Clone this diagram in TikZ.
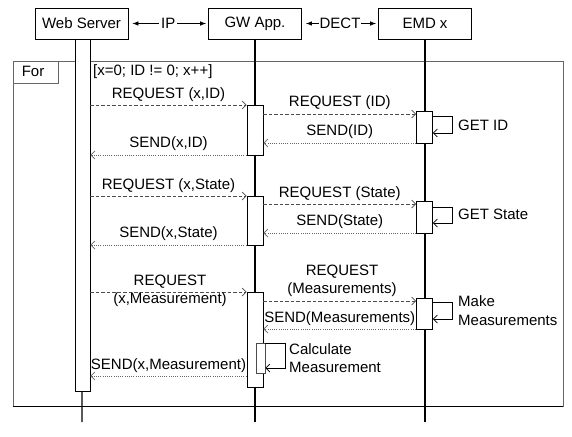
\documentclass[tikz,border=0pt]{standalone}
\usepackage{fontspec}
\setmainfont{Liberation Sans}
\usetikzlibrary{arrows.meta}
\begin{document}
\begin{tikzpicture}[x=1pt,y=-1pt,
  every node/.style={font=\fontsize{15}{16.5}\selectfont, inner sep=1pt},
  head/.style={draw=black, line width=0.8pt, minimum width=93pt, minimum height=31pt, inner sep=0pt},
  actbar/.style={draw=black, fill=white, line width=0.9pt, minimum width=16pt, inner sep=0pt, anchor=north},
  lifeline/.style={line width=1.2pt},
  req/.style={draw=black!70, line width=0.7pt, dash pattern=on 3.5pt off 2pt, -{Straight Barb[length=4pt,width=8pt]}},
  rep/.style={draw=black!60, line width=0.7pt, dash pattern=on 1pt off 1.2pt, -{Straight Barb[length=4pt,width=8pt]}},
  selfloop/.style={draw=black, line width=0.7pt, -{Straight Barb[length=4pt,width=8pt]}},
  frame/.style={draw=black!60, line width=0.8pt},
  lbl/.style={inner sep=0pt}
]
\useasboundingbox (0,0) rectangle (572,436);
\fill[white] (0,0) rectangle (572,436);

% frame
\draw[frame] (13,61) rectangle (563,406);
\draw[line width=0.9pt] (13,406) -- (563,406);
\node[frame, draw, minimum width=45pt, minimum height=22pt, anchor=north west, inner sep=0pt] (fortab) at (13,61) {};
\node[lbl] (fortxt) at (33,71.5) {For};
\node[lbl, anchor=west] (guard) at (93,72) {[x=0; ID != 0; x++]};

% heads
\node[head] (ws) at (81.5,23.5) {Web Server};
\node[head] (gw) at (255,23.5) {GW App.};
\node[head] (emd) at (425,23.5) {EMD x};

\draw[{Latex[length=6pt,width=4.5pt]}-{Latex[length=6pt,width=4.5pt]}, line width=0.7pt, shorten <=4pt, shorten >=2pt] (ws.east) -- node[fill=white, inner sep=2pt] (ip) {IP} (gw.west);
\draw[{Latex[length=6pt,width=4.5pt]}-{Latex[length=6pt,width=4.5pt]}, line width=0.7pt, shorten <=4pt, shorten >=2pt] (gw.east) -- node[fill=white, inner sep=1pt] (dect) {DECT} (emd.west);

% lifelines
\coordinate (wsend) at (82,422);
\coordinate (gwend) at (255,422);
\coordinate (emdend) at (425,422);
\draw[lifeline] (ws.south) -- (wsend);
\draw[lifeline] (gw.south) -- (gwend);
\draw[lifeline] (emd.south) -- (emdend);

% activation bars
\node[actbar, minimum width=15pt, minimum height=352pt] (wb) at (82.5,39) {};
\node[actbar, minimum height=50pt] (g1) at (255,105) {};
\node[actbar, minimum height=32pt] (e1) at (424.5,111) {};
\node[actbar, minimum height=49pt] (g2) at (255,196) {};
\node[actbar, minimum height=32pt] (e2) at (424.5,201) {};
\node[actbar, minimum height=95pt] (g3) at (255,292) {};
\node[actbar, minimum height=31pt] (e3) at (424.5,298) {};
\node[actbar, draw=black!70, line width=0.7pt, minimum width=9pt, minimum height=30pt] (c3) at (260.5,343) {};

% block 1
\draw[req] (wb.east |- 0,105) -- node[above=2pt] (l1) {REQUEST (x,ID)} (g1.west |- 0,105);
\draw[req] (g1.east |- 0,114) -- node[above=3pt] (l2) {REQUEST (ID)} (e1.west |- 0,114);
\draw[selfloop] (e1.east |- 0,116) -| (452,133) -- (e1.east |- 0,133);
\node[lbl, anchor=west] (l3) at (458,125) {GET ID};
\draw[rep] (e1.west |- 0,143) -- node[above=3pt] (l4) {SEND(ID)} (g1.east |- 0,143);
\draw[rep] (g1.west |- 0,155) -- node[above=3pt] (l5) {SEND(x,ID)} (wb.east |- 0,155);

% block 2
\draw[req] (wb.east |- 0,196) -- node[above=2pt] (l6) {REQUEST (x,State)} (g2.west |- 0,196);
\draw[req] (g2.east |- 0,204) -- node[above=2pt] (l7) {REQUEST (State)} (e2.west |- 0,204);
\draw[selfloop] (e2.east |- 0,207) -| (452,223) -- (e2.east |- 0,223);
\node[lbl, anchor=west] (l8) at (458,214) {GET State};
\draw[rep] (e2.west |- 0,233) -- node[above=3pt] (l9) {SEND(State)} (g2.east |- 0,233);
\draw[rep] (g2.west |- 0,245) -- node[above=3pt] (l10) {SEND(x,State)} (wb.east |- 0,245);

% block 3
\draw[req] (wb.east |- 0,292) -- (g3.west |- 0,292);
\node[lbl] (l11a) at (170,282) {REQUEST};
\node[lbl] (l11b) at (170,300) {(x,Measurement)};
\draw[req] (g3.east |- 0,301) -- (e3.west |- 0,301);
\node[lbl] (l12a) at (342,272) {REQUEST};
\node[lbl] (l12b) at (342,290) {(Measurements)};
\draw[selfloop] (e3.east |- 0,302) -| (452,319) -- (e3.east |- 0,319);
\node[lbl, anchor=west] (l13a) at (458,301) {Make};
\node[lbl, anchor=west] (l13b) at (458,320) {Measurements};
\draw[rep] (e3.west |- 0,329) -- node[above=2pt] (l14) {SEND(Measurements)} (g3.east |- 0,329);
\draw[selfloop] (c3.east |- 0,343) -| (285,368) -- (c3.east |- 0,368);
\node[lbl, anchor=west] (l15a) at (289,349) {Calculate};
\node[lbl, anchor=west] (l15b) at (289,367) {Measurement};
\draw[rep] (g3.west |- 0,376) -- node[above=2pt] (l16) {SEND(x,Measurement)} (wb.east |- 0,376);
\end{tikzpicture}
\end{document}
